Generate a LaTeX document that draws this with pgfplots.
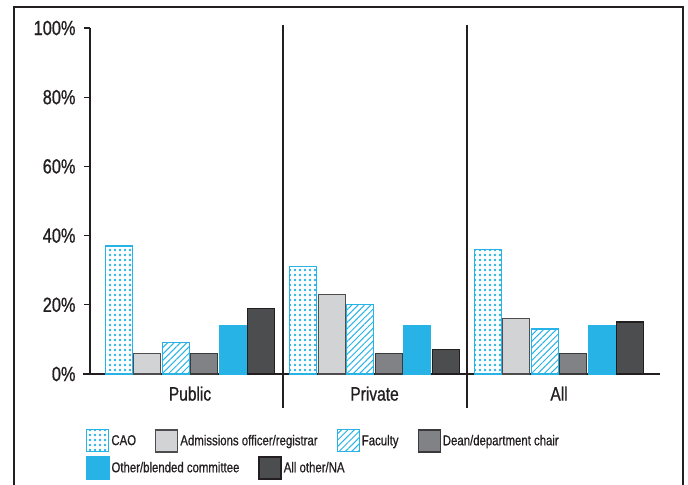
\documentclass[border=0pt]{standalone}
\usepackage{pgfplots}
\pgfplotsset{compat=1.18}
\usetikzlibrary{patterns,patterns.meta}
\usepackage{fontspec}
\setmainfont{Liberation Sans}[FakeStretch=0.8, FakeBold=0.8]
\definecolor{cyanb}{HTML}{27B3E6}
\definecolor{lgfill}{HTML}{D1D3D4}
\definecolor{lgdraw}{HTML}{4D4D4F}
\definecolor{mgfill}{HTML}{808285}
\definecolor{mgdraw}{HTML}{3A3A3C}
\definecolor{dkfill}{HTML}{4B4D4F}
\definecolor{dkdraw}{HTML}{231F20}
\definecolor{axdark}{HTML}{231F20}
\pgfplotsset{
  legbase/.style={
    legend style={anchor=north west, draw=none, fill=none, inner sep=0pt,
      legend columns=-1,
      /tikz/every even column/.append style={column sep=17bp},
      font=\fontsize{14.3}{16}\selectfont, text=axdark},
    legend cell align=left,
    legend image code/.code={\draw[##1] (0bp,-11bp) rectangle (22bp,11bp);},
  },
  stCAO/.style={pattern={Dots[distance=5bp, radius=1.3bp]}, pattern color=cyanb, draw=cyanb, line width=1.2bp},
  stAdm/.style={fill=lgfill, draw=lgdraw, line width=1.3bp},
  stFac/.style={pattern={Lines[angle=45, distance=4.5bp, line width=1bp]}, pattern color=cyanb, draw=cyanb, line width=1.2bp},
  stDean/.style={fill=mgfill, draw=mgdraw, line width=1.3bp},
  stOther/.style={fill=cyanb, draw=cyanb, line width=1.3bp},
  stAll/.style={fill=dkfill, draw=dkdraw, line width=1.3bp},
}
\begin{document}
\begin{tikzpicture}
\begin{axis}[
  at={(0,0)}, anchor=south west,
  scale only axis, width=570bp, height=346bp,
  xmin=-0.542, xmax=2.547, ymin=0, ymax=100,
  ybar=1.5bp, bar width=27bp,
  axis x line=bottom, axis y line=left,
  x axis line style={-, line width=2.6bp, color=axdark, shorten <=-7bp},
  y axis line style={-, line width=1.1bp, color=axdark},
  xtick={0,1,2}, xticklabels={Public,Private,All},
  xtick style={draw=none},
  ytick={0,20,40,60,80,100},
  yticklabel={\pgfmathprintnumber{\tick}\%},
  tick align=outside,
  ytick style={line width=1.1bp, color=axdark},
  major tick length=6bp,
  /pgf/number format/assume math mode=true,
  tick label style={font=\fontsize{20.5}{22}\selectfont, text=axdark},
  xticklabel style={font=\fontsize{19.5}{22}\selectfont, yshift=-3bp},
  yticklabel style={xshift=-5bp},
  clip=false,
  legbase,
  legend style={at={(axis description cs:-0.007,-0.159)}},
]
\addplot[stCAO] coordinates {(0,37) (1,31) (2,36)};
\addlegendentry{CAO}
\addplot[stAdm] coordinates {(0,6) (1,23) (2,16)};
\addlegendentry{Admissions officer/registrar}
\addplot[stFac] coordinates {(0,9) (1,20) (2,13)};
\addlegendentry{Faculty}
\addplot[stDean] coordinates {(0,6) (1,6) (2,6)};
\addlegendentry{Dean/department chair}
\addplot[stOther] coordinates {(0,14) (1,14) (2,14)};
\addplot[stAll] coordinates {(0,19) (1,7) (2,15)};
\draw[line width=1.1bp, axdark] (axis cs:0.504,-9.8) -- (axis cs:0.504,101);
\draw[line width=1.1bp, axdark] (axis cs:1.501,-9.8) -- (axis cs:1.501,101);
\end{axis}
\begin{axis}[
  at={(0,0)}, anchor=south west,
  scale only axis, width=570bp, height=346bp,
  hide axis, xmin=0, xmax=1, ymin=0, ymax=1,
  legbase,
  legend style={at={(axis description cs:-0.007,-0.237)}},
]
\addlegendimage{stOther}
\addlegendentry{Other/blended committee}
\addlegendimage{stAll}
\addlegendentry{All other/NA}
\end{axis}
\draw[line width=2.6bp, axdark] (-76bp,-115bp) -- (-76bp,367bp) -- (593bp,367bp) -- (593bp,-115bp);
\pgfresetboundingbox
\useasboundingbox (-90bp,-111bp) rectangle (598bp,374bp);
\end{tikzpicture}
\end{document}
